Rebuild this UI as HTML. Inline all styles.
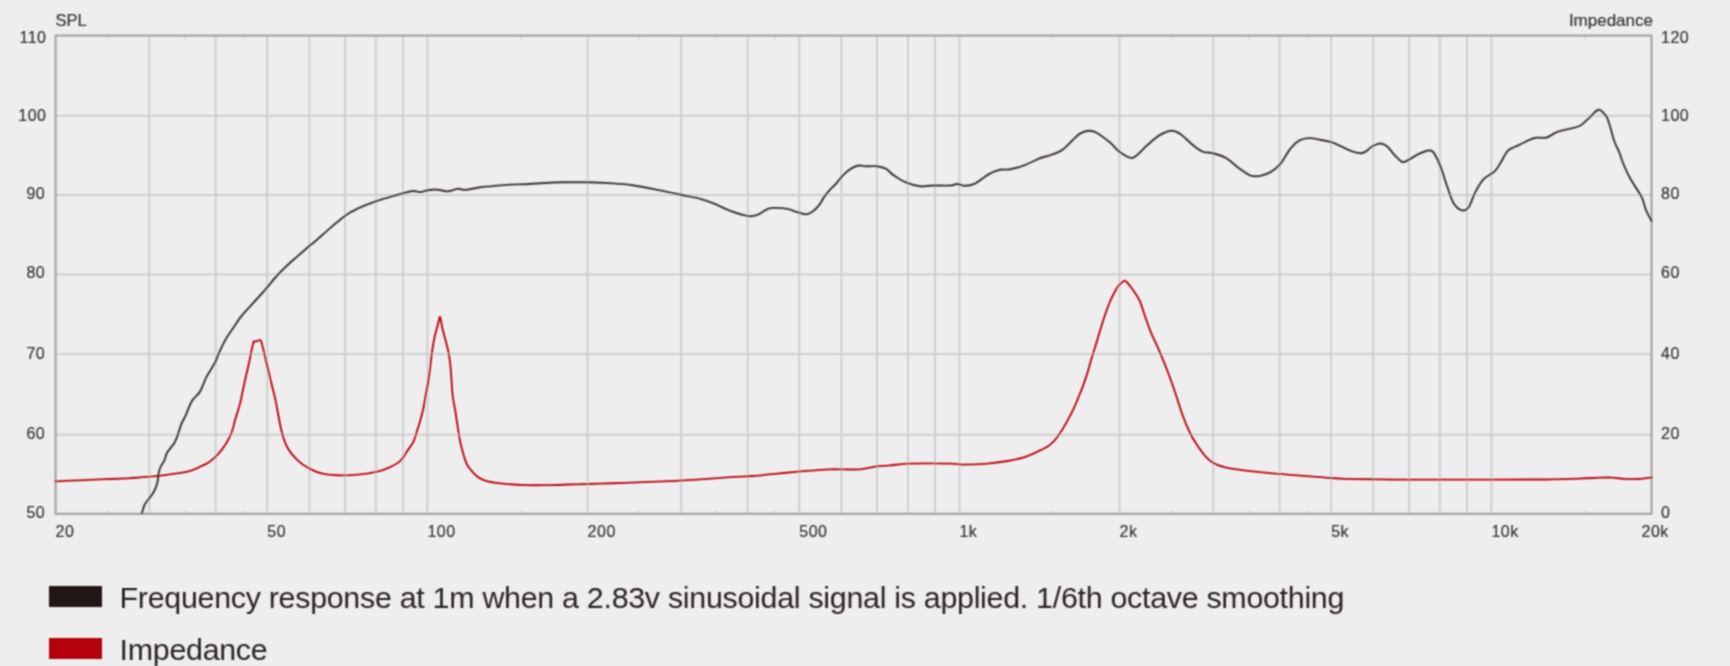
<!DOCTYPE html>
<html><head><meta charset="utf-8"><style>
html,body{margin:0;padding:0;background:#eeeeee;}
body{width:1730px;height:666px;overflow:hidden;position:relative;font-family:"Liberation Sans",sans-serif;}
svg{position:absolute;left:0;top:0;}
.leg,.sw{filter:url(#bl);}
.leg{position:absolute;left:119.6px;font-size:30.4px;letter-spacing:-0.285px;color:#2c2222;white-space:nowrap;line-height:1;}
.sw{position:absolute;left:48.5px;width:53px;height:21px;}
</style></head><body>
<svg width="1730" height="666" viewBox="0 0 1730 666">
<defs><filter id="bl" x="-5%" y="-5%" width="110%" height="110%"><feConvolveMatrix order="3" kernelMatrix="1 2 1 2 4 2 1 2 1" divisor="16" edgeMode="none"/></filter></defs>
<g filter="url(#bl)">
<g stroke="#cfcfcf" stroke-width="2" fill="none"><line x1="149.3" y1="35.6" x2="149.3" y2="513.8"/><line x1="215.7" y1="35.6" x2="215.7" y2="513.8"/><line x1="267.3" y1="35.6" x2="267.3" y2="513.8"/><line x1="309.4" y1="35.6" x2="309.4" y2="513.8"/><line x1="345.0" y1="35.6" x2="345.0" y2="513.8"/><line x1="375.9" y1="35.6" x2="375.9" y2="513.8"/><line x1="403.1" y1="35.6" x2="403.1" y2="513.8"/><line x1="427.4" y1="35.6" x2="427.4" y2="513.8"/><line x1="587.6" y1="35.6" x2="587.6" y2="513.8"/><line x1="681.2" y1="35.6" x2="681.2" y2="513.8"/><line x1="747.7" y1="35.6" x2="747.7" y2="513.8"/><line x1="799.3" y1="35.6" x2="799.3" y2="513.8"/><line x1="841.4" y1="35.6" x2="841.4" y2="513.8"/><line x1="877.0" y1="35.6" x2="877.0" y2="513.8"/><line x1="907.8" y1="35.6" x2="907.8" y2="513.8"/><line x1="935.1" y1="35.6" x2="935.1" y2="513.8"/><line x1="959.4" y1="35.6" x2="959.4" y2="513.8"/><line x1="1119.5" y1="35.6" x2="1119.5" y2="513.8"/><line x1="1213.2" y1="35.6" x2="1213.2" y2="513.8"/><line x1="1279.7" y1="35.6" x2="1279.7" y2="513.8"/><line x1="1331.2" y1="35.6" x2="1331.2" y2="513.8"/><line x1="1373.3" y1="35.6" x2="1373.3" y2="513.8"/><line x1="1409.0" y1="35.6" x2="1409.0" y2="513.8"/><line x1="1439.8" y1="35.6" x2="1439.8" y2="513.8"/><line x1="1467.0" y1="35.6" x2="1467.0" y2="513.8"/><line x1="1491.4" y1="35.6" x2="1491.4" y2="513.8"/><line x1="55.6" y1="115.7" x2="1651.5" y2="115.7"/><line x1="55.6" y1="195.1" x2="1651.5" y2="195.1"/><line x1="55.6" y1="274.4" x2="1651.5" y2="274.4"/><line x1="55.6" y1="354.1" x2="1651.5" y2="354.1"/><line x1="55.6" y1="434.8" x2="1651.5" y2="434.8"/></g>
<g stroke="#d2d2d2" stroke-width="1.5" fill="none"><line x1="107.2" y1="35.6" x2="107.2" y2="39.1"/><line x1="107.2" y1="510.3" x2="107.2" y2="513.8"/><line x1="184.9" y1="35.6" x2="184.9" y2="39.1"/><line x1="184.9" y1="510.3" x2="184.9" y2="513.8"/><line x1="242.9" y1="35.6" x2="242.9" y2="39.1"/><line x1="242.9" y1="510.3" x2="242.9" y2="513.8"/><line x1="521.1" y1="35.6" x2="521.1" y2="39.1"/><line x1="521.1" y1="510.3" x2="521.1" y2="513.8"/><line x1="639.1" y1="35.6" x2="639.1" y2="39.1"/><line x1="639.1" y1="510.3" x2="639.1" y2="513.8"/><line x1="716.9" y1="35.6" x2="716.9" y2="39.1"/><line x1="716.9" y1="510.3" x2="716.9" y2="513.8"/><line x1="774.9" y1="35.6" x2="774.9" y2="39.1"/><line x1="774.9" y1="510.3" x2="774.9" y2="513.8"/><line x1="1053.1" y1="35.6" x2="1053.1" y2="39.1"/><line x1="1053.1" y1="510.3" x2="1053.1" y2="513.8"/><line x1="1171.1" y1="35.6" x2="1171.1" y2="39.1"/><line x1="1171.1" y1="510.3" x2="1171.1" y2="513.8"/><line x1="1248.8" y1="35.6" x2="1248.8" y2="39.1"/><line x1="1248.8" y1="510.3" x2="1248.8" y2="513.8"/><line x1="1306.9" y1="35.6" x2="1306.9" y2="39.1"/><line x1="1306.9" y1="510.3" x2="1306.9" y2="513.8"/><line x1="1585.0" y1="35.6" x2="1585.0" y2="39.1"/><line x1="1585.0" y1="510.3" x2="1585.0" y2="513.8"/></g>
<rect x="55.6" y="35.6" width="1595.9" height="478.2" fill="none" stroke="#a3a5a3" stroke-width="2.2"/>
<path d="M55.3 481.3 C59.4 481.1 71.7 480.7 80.0 480.3 C88.3 479.9 97.0 479.5 105.0 479.2 C113.0 478.9 122.2 478.6 128.1 478.3 C134.0 478.0 135.2 477.7 140.2 477.3 C145.2 476.9 152.7 476.5 158.2 475.9 C163.7 475.3 168.2 474.6 173.2 473.8 C178.2 473.1 183.8 472.6 188.3 471.4 C192.8 470.2 196.8 468.2 200.3 466.6 C203.8 465.1 206.3 464.2 209.3 462.1 C212.3 460.0 215.6 456.8 218.3 453.8 C221.1 450.8 223.6 447.6 225.8 444.0 C228.1 440.4 230.2 436.2 231.8 432.0 C233.4 427.8 234.1 423.3 235.5 418.6 C236.9 413.9 238.5 409.6 240.0 403.6 C241.5 397.6 243.0 389.4 244.5 382.6 C246.0 375.8 247.6 369.6 249.0 363.0 C250.4 356.4 252.2 346.6 253.2 343.1 C254.2 339.6 254.1 342.2 254.8 341.8 C255.5 341.4 256.7 341.1 257.5 340.8 C258.3 340.5 259.0 340.0 259.6 340.2 C260.2 340.4 260.4 339.2 261.3 341.8 C262.2 344.4 263.3 349.4 264.8 355.5 C266.3 361.6 268.4 370.8 270.1 378.1 C271.9 385.4 273.4 390.5 275.3 399.1 C277.2 407.8 279.3 421.9 281.3 430.0 C283.3 438.1 284.7 442.7 287.5 447.8 C290.3 452.9 294.4 457.2 298.0 460.6 C301.6 464.0 304.9 466.2 309.0 468.4 C313.1 470.6 316.7 472.4 322.5 473.6 C328.3 474.8 337.3 475.3 343.6 475.4 C349.9 475.5 354.9 474.9 360.1 474.4 C365.4 473.8 370.6 473.1 375.1 472.1 C379.6 471.1 383.1 470.2 387.2 468.4 C391.3 466.6 396.6 464.1 400.0 461.1 C403.4 458.1 405.2 453.9 407.5 450.6 C409.8 447.4 412.0 444.6 413.5 441.6 C415.0 438.6 415.4 436.1 416.5 432.6 C417.6 429.1 419.2 424.5 420.3 420.5 C421.4 416.5 422.4 412.5 423.3 408.5 C424.2 404.5 424.7 400.8 425.5 396.5 C426.3 392.2 427.3 387.4 428.0 383.0 C428.7 378.6 429.1 375.2 429.8 370.1 C430.5 365.0 431.2 357.4 432.0 352.1 C432.8 346.8 433.4 342.9 434.3 338.5 C435.2 334.1 436.8 328.9 437.5 326.0 C438.2 323.1 438.3 322.6 438.7 321.0 C439.1 319.4 439.5 316.6 439.9 316.6 C440.3 316.6 440.7 319.1 441.1 321.0 C441.5 322.9 441.2 323.3 442.3 328.0 C443.4 332.7 446.5 343.3 447.8 349.1 C449.1 354.9 449.5 357.5 450.1 362.6 C450.7 367.8 451.1 374.6 451.5 380.0 C451.9 385.4 451.9 389.5 452.6 395.0 C453.3 400.5 454.6 406.7 455.6 413.0 C456.6 419.3 457.6 426.8 458.6 432.6 C459.6 438.4 460.2 442.4 461.6 447.6 C463.0 452.9 464.8 459.9 466.8 464.1 C468.8 468.4 471.4 470.7 473.6 473.1 C475.8 475.5 477.6 477.0 480.0 478.4 C482.4 479.8 484.1 480.5 487.9 481.4 C491.7 482.3 496.6 483.0 502.9 483.6 C509.1 484.2 517.5 484.9 525.4 485.1 C533.2 485.4 541.7 485.2 550.0 485.1 C558.3 485.0 566.7 484.6 575.0 484.3 C583.3 484.1 591.7 483.9 600.0 483.6 C608.3 483.4 616.7 483.1 625.0 482.8 C633.3 482.5 641.7 482.1 650.0 481.8 C658.3 481.5 666.6 481.2 675.0 480.8 C683.4 480.4 691.1 480.0 700.3 479.4 C709.5 478.8 721.5 477.8 730.3 477.2 C739.1 476.6 745.4 476.6 752.9 476.0 C760.4 475.4 767.9 474.5 775.4 473.8 C782.9 473.1 791.4 472.2 798.0 471.6 C804.6 471.0 809.6 470.7 815.0 470.3 C820.4 469.9 822.6 469.5 830.1 469.3 C837.6 469.1 852.6 469.8 860.1 469.3 C867.6 468.9 870.1 467.2 875.1 466.6 C880.1 466.0 884.7 465.9 890.2 465.4 C895.7 464.9 898.2 463.9 908.2 463.6 C918.2 463.3 941.3 463.4 950.3 463.6 C959.3 463.8 956.0 464.6 962.3 464.6 C968.6 464.6 980.4 464.2 987.9 463.6 C995.4 463.0 1001.1 462.1 1007.4 461.0 C1013.6 459.9 1019.9 458.6 1025.4 456.8 C1030.9 455.0 1036.4 452.1 1040.5 450.1 C1044.6 448.1 1046.8 447.6 1050.0 444.9 C1053.2 442.2 1055.8 439.4 1059.5 433.9 C1063.2 428.4 1068.4 419.1 1072.1 411.8 C1075.8 404.5 1079.0 395.9 1081.5 389.8 C1084.0 383.7 1085.0 380.4 1086.8 375.0 C1088.5 369.6 1090.1 363.3 1092.0 357.1 C1093.9 350.9 1096.0 344.1 1098.0 337.6 C1100.0 331.1 1102.0 324.0 1104.0 318.0 C1106.0 312.0 1108.0 306.2 1110.0 301.5 C1112.0 296.8 1114.4 292.4 1116.0 289.5 C1117.6 286.6 1118.9 285.4 1119.8 284.3 C1120.7 283.2 1120.6 283.6 1121.5 283.0 C1122.4 282.4 1123.7 280.1 1125.3 280.8 C1126.9 281.5 1128.7 284.1 1131.0 287.3 C1133.3 290.5 1137.0 295.4 1139.3 300.0 C1141.6 304.6 1142.7 309.7 1144.6 315.0 C1146.5 320.3 1148.3 326.1 1150.6 331.6 C1152.8 337.1 1155.6 342.4 1158.1 348.1 C1160.6 353.9 1163.6 361.2 1165.6 366.1 C1167.5 371.0 1168.1 372.4 1169.8 377.2 C1171.5 382.0 1174.0 388.9 1176.0 395.0 C1178.0 401.1 1179.8 407.3 1182.0 413.5 C1184.2 419.7 1187.0 426.7 1189.5 432.0 C1192.0 437.3 1194.3 440.9 1197.1 445.1 C1199.9 449.3 1203.1 454.0 1206.1 457.1 C1209.1 460.2 1211.1 462.0 1215.1 463.9 C1219.1 465.8 1223.8 467.1 1230.1 468.4 C1236.4 469.6 1245.2 470.5 1252.7 471.4 C1260.2 472.3 1266.4 472.9 1275.2 473.6 C1284.0 474.4 1296.5 475.2 1305.3 475.9 C1314.1 476.6 1321.0 477.3 1327.8 477.8 C1334.5 478.3 1337.5 478.6 1345.8 478.8 C1354.1 479.1 1368.4 479.2 1377.4 479.3 C1386.4 479.4 1379.6 479.6 1400.0 479.6 C1420.4 479.7 1475.0 479.6 1500.0 479.6 C1525.0 479.6 1536.7 479.6 1550.0 479.4 C1563.3 479.2 1571.7 478.9 1580.0 478.6 C1588.3 478.3 1594.7 477.9 1600.0 477.7 C1605.3 477.5 1607.8 477.4 1612.0 477.6 C1616.2 477.8 1620.7 478.7 1625.0 478.9 C1629.3 479.1 1633.5 479.2 1638.0 479.0 C1642.5 478.8 1649.4 477.8 1651.7 477.5" fill="none" stroke="#bc0410" stroke-width="1.85" stroke-linejoin="round" stroke-linecap="round"/>
<path d="M142.0 512.9 C142.4 511.5 143.6 506.7 144.6 504.6 C145.6 502.5 146.6 501.8 147.8 500.2 C149.0 498.6 150.3 497.0 151.6 495.1 C152.9 493.2 154.4 491.1 155.4 488.7 C156.4 486.3 157.2 483.6 157.7 481.0 C158.2 478.4 158.1 475.7 158.6 473.4 C159.1 471.1 159.6 469.1 160.5 467.0 C161.4 464.9 163.2 462.9 164.3 460.6 C165.4 458.3 165.8 455.1 166.9 453.0 C168.0 450.9 169.4 449.6 170.7 447.9 C172.0 446.2 173.3 444.9 174.5 442.8 C175.7 440.7 176.6 438.2 177.7 435.1 C178.8 432.0 180.0 427.4 181.3 424.1 C182.7 420.8 184.6 417.9 185.8 415.1 C187.1 412.4 187.7 410.1 188.8 407.6 C189.9 405.1 190.8 402.6 192.5 400.1 C194.2 397.6 197.6 395.1 199.3 392.6 C201.1 390.1 201.9 387.6 203.0 385.1 C204.1 382.6 204.8 380.1 206.1 377.6 C207.4 375.1 209.1 372.5 210.6 370.0 C212.1 367.5 213.8 365.0 215.1 362.5 C216.3 360.0 217.0 357.6 218.1 355.0 C219.2 352.4 220.5 349.6 221.8 346.8 C223.2 344.1 224.3 341.7 226.2 338.5 C228.1 335.3 230.8 331.5 233.4 327.7 C236.0 323.9 238.6 319.6 241.8 315.6 C245.0 311.6 248.8 307.8 252.6 303.6 C256.4 299.4 260.6 295.0 264.6 290.4 C268.6 285.8 272.7 280.4 276.7 276.0 C280.7 271.6 285.1 267.4 288.7 264.0 C292.3 260.6 295.1 258.4 298.3 255.6 C301.5 252.8 305.1 249.6 307.9 247.2 C310.7 244.8 311.8 244.1 315.0 241.4 C318.2 238.7 323.2 234.2 327.0 230.9 C330.8 227.6 333.8 224.8 337.6 221.8 C341.4 218.8 345.4 215.4 349.6 212.8 C353.9 210.2 358.9 208.0 363.1 206.1 C367.4 204.2 371.1 203.0 375.1 201.6 C379.1 200.2 383.2 199.0 387.2 197.8 C391.2 196.6 394.9 195.4 399.2 194.3 C403.4 193.2 409.2 191.4 412.7 191.0 C416.2 190.6 417.7 192.2 420.2 192.1 C422.7 192.0 425.2 190.7 427.7 190.3 C430.2 189.9 433.0 189.5 435.3 189.5 C437.6 189.5 439.2 190.0 441.3 190.3 C443.4 190.6 445.2 191.6 448.0 191.3 C450.8 191.1 454.9 189.1 457.8 188.8 C460.7 188.6 461.6 190.1 465.3 189.8 C469.1 189.6 475.3 188.0 480.3 187.3 C485.3 186.6 490.4 186.2 495.4 185.8 C500.4 185.4 505.4 184.8 510.4 184.6 C515.4 184.3 520.4 184.5 525.4 184.3 C530.4 184.1 533.9 183.5 540.5 183.2 C547.1 182.9 557.1 182.5 565.0 182.3 C572.9 182.2 579.6 182.1 587.6 182.3 C595.6 182.5 605.6 182.9 613.1 183.4 C620.6 183.9 625.7 184.3 632.7 185.3 C639.7 186.3 647.2 187.8 655.2 189.4 C663.2 191.0 673.2 193.2 680.7 194.8 C688.2 196.4 694.5 197.2 700.3 198.8 C706.1 200.4 710.3 202.1 715.3 204.1 C720.3 206.1 724.8 208.9 730.3 210.9 C735.8 212.9 743.9 215.4 748.4 216.1 C752.9 216.8 754.1 216.1 757.4 214.9 C760.6 213.7 764.9 210.1 767.9 208.9 C770.9 207.7 772.1 207.9 775.4 207.9 C778.7 207.9 783.7 208.2 787.5 208.9 C791.3 209.7 794.9 211.5 798.0 212.4 C801.1 213.3 803.7 214.5 806.0 214.4 C808.3 214.3 809.8 213.7 812.0 212.1 C814.2 210.5 817.5 207.1 819.5 204.6 C821.5 202.1 822.2 199.6 824.0 197.1 C825.8 194.6 828.1 191.8 830.1 189.6 C832.1 187.3 833.9 186.1 836.1 183.6 C838.4 181.1 841.1 177.1 843.6 174.6 C846.1 172.1 848.6 170.1 851.1 168.6 C853.6 167.1 856.1 165.9 858.6 165.5 C861.1 165.1 863.1 166.2 866.1 166.3 C869.1 166.4 873.3 165.9 876.6 166.3 C879.9 166.7 882.9 167.2 885.7 168.6 C888.5 170.0 890.0 172.7 893.2 174.9 C896.5 177.2 900.7 180.2 905.2 182.1 C909.7 184.0 915.7 185.7 920.2 186.3 C924.7 186.9 927.2 185.6 932.2 185.5 C937.2 185.4 946.2 185.8 950.3 185.5 C954.4 185.2 954.5 183.9 957.0 184.0 C959.5 184.1 962.4 185.8 965.3 185.8 C968.2 185.8 970.3 185.9 974.3 183.9 C978.3 181.9 985.1 176.2 989.4 173.8 C993.7 171.5 996.4 170.6 999.9 169.8 C1003.4 169.1 1006.1 170.1 1010.4 169.3 C1014.6 168.5 1020.4 166.7 1025.4 164.8 C1030.4 162.9 1036.4 159.6 1040.5 158.0 C1044.6 156.4 1046.4 156.6 1050.0 155.3 C1053.6 154.0 1058.2 152.6 1062.0 150.1 C1065.8 147.6 1069.5 143.1 1072.5 140.3 C1075.5 137.6 1077.2 135.2 1080.0 133.6 C1082.8 132.0 1086.3 130.9 1089.1 130.8 C1091.9 130.7 1093.1 130.8 1096.6 132.8 C1100.1 134.8 1106.3 139.5 1110.1 142.6 C1113.8 145.7 1115.8 149.1 1119.1 151.6 C1122.4 154.1 1126.9 156.8 1129.7 157.6 C1132.5 158.3 1132.7 158.2 1135.7 156.1 C1138.7 154.0 1143.7 148.3 1147.7 144.8 C1151.7 141.3 1155.7 137.4 1159.7 135.1 C1163.7 132.8 1168.2 130.9 1171.7 130.8 C1175.2 130.7 1176.9 131.7 1180.7 134.3 C1184.5 136.9 1190.5 143.4 1194.3 146.3 C1198.1 149.2 1200.3 150.8 1203.3 151.9 C1206.3 153.0 1208.5 152.1 1212.3 153.1 C1216.0 154.1 1221.5 155.5 1225.8 157.9 C1230.1 160.3 1233.9 164.5 1237.9 167.4 C1241.9 170.3 1246.2 173.9 1249.9 175.3 C1253.7 176.7 1256.9 176.5 1260.4 175.9 C1263.9 175.3 1267.7 173.8 1270.9 171.9 C1274.2 170.0 1276.6 168.3 1279.9 164.4 C1283.2 160.5 1287.2 152.6 1290.5 148.6 C1293.8 144.6 1296.3 142.1 1299.5 140.3 C1302.7 138.6 1306.5 138.2 1309.9 138.1 C1313.3 138.0 1316.2 139.0 1319.8 139.7 C1323.4 140.4 1327.6 140.9 1331.4 142.2 C1335.2 143.4 1339.3 145.6 1342.9 147.2 C1346.5 148.8 1349.9 150.6 1352.9 151.6 C1355.9 152.6 1358.9 153.4 1361.1 153.3 C1363.3 153.2 1364.2 152.5 1366.1 151.3 C1368.0 150.1 1370.2 147.3 1372.7 146.0 C1375.2 144.7 1378.4 143.4 1380.9 143.5 C1383.4 143.6 1385.3 144.8 1387.5 146.7 C1389.7 148.5 1391.7 152.0 1394.2 154.6 C1396.7 157.2 1399.9 161.2 1402.4 162.0 C1404.9 162.8 1406.2 161.0 1409.0 159.6 C1411.8 158.2 1415.6 155.3 1418.9 153.8 C1422.2 152.3 1426.3 150.7 1428.8 150.5 C1431.3 150.3 1431.9 150.3 1433.8 152.9 C1435.7 155.5 1438.2 160.7 1440.4 166.2 C1442.6 171.7 1444.8 179.8 1447.0 186.0 C1449.2 192.2 1451.1 199.2 1453.6 203.3 C1456.1 207.4 1459.4 209.6 1461.9 210.3 C1464.4 211.0 1466.3 210.4 1468.5 207.5 C1470.7 204.6 1472.6 197.3 1475.1 192.6 C1477.6 187.9 1480.1 183.0 1483.4 179.4 C1486.7 175.8 1491.9 174.1 1494.9 171.1 C1497.9 168.1 1499.3 164.6 1501.5 161.2 C1503.7 157.8 1505.1 153.2 1508.1 150.5 C1511.1 147.8 1516.0 146.5 1519.7 144.7 C1523.4 142.9 1527.2 140.8 1530.0 139.6 C1532.8 138.4 1533.5 138.0 1536.3 137.7 C1539.1 137.3 1543.3 138.5 1546.8 137.5 C1550.3 136.5 1553.4 133.3 1557.3 131.8 C1561.2 130.3 1566.1 129.8 1570.0 128.7 C1573.9 127.6 1577.3 127.3 1580.5 125.5 C1583.7 123.7 1585.9 120.7 1588.9 118.1 C1591.9 115.5 1595.8 110.3 1598.4 109.7 C1601.0 109.1 1603.3 113.1 1604.7 114.4 C1606.1 115.7 1606.1 115.2 1607.0 117.3 C1607.9 119.4 1609.0 122.8 1610.2 126.8 C1611.4 130.8 1612.8 137.1 1614.4 141.5 C1616.0 145.9 1618.2 149.5 1619.6 153.0 C1621.0 156.5 1621.0 158.3 1622.8 162.5 C1624.5 166.7 1626.9 172.5 1630.1 178.3 C1633.2 184.1 1639.1 191.9 1641.7 197.2 C1644.3 202.4 1644.2 205.8 1645.9 209.8 C1647.6 213.8 1650.6 219.1 1651.6 221.0" fill="none" stroke="#3a3030" stroke-width="1.9" stroke-linejoin="round" stroke-linecap="round"/>
<g font-family="'Liberation Sans', sans-serif" font-size="16" fill="#333333" stroke="#333333" stroke-width="0.15" letter-spacing="0.5"><text x="46.5" y="43.2" text-anchor="end">110</text><text x="46.5" y="120.8" text-anchor="end">100</text><text x="45.2" y="199.2" text-anchor="end">90</text><text x="45.2" y="278.1" text-anchor="end">80</text><text x="45.2" y="359.0" text-anchor="end">70</text><text x="45.2" y="439.0" text-anchor="end">60</text><text x="45.2" y="518.1" text-anchor="end">50</text><text x="1661" y="43.2">120</text><text x="1661" y="120.8">100</text><text x="1661" y="199.2">80</text><text x="1661" y="278.1">60</text><text x="1661" y="359.0">40</text><text x="1661" y="439.0">20</text><text x="1661" y="518.1">0</text><text x="55.6" y="537">20</text><text x="267.3" y="537">50</text><text x="427.4" y="537">100</text><text x="587.6" y="537">200</text><text x="799.3" y="537">500</text><text x="959.4" y="537">1k</text><text x="1119.5" y="537">2k</text><text x="1331.2" y="537">5k</text><text x="1491.4" y="537">10k</text><text x="1641.5" y="537">20k</text></g>
<g font-family="'Liberation Sans', sans-serif" font-size="16.5" fill="#333333" stroke="#333333" stroke-width="0.15">
<text x="55.5" y="25.5">SPL</text>
<text x="1653" y="25.5" text-anchor="end" font-size="17">Impedance</text>
</g>
</g></svg>
<div class="sw" style="top:586px;background:#231816"></div>
<div class="sw" style="top:638px;background:#b5020f"></div>
<div class="leg" style="top:581.7px">Frequency response at 1m when a 2.83v sinusoidal signal is applied. 1/6th octave smoothing</div>
<div class="leg" style="top:633.8px">Impedance</div>
</body></html>
